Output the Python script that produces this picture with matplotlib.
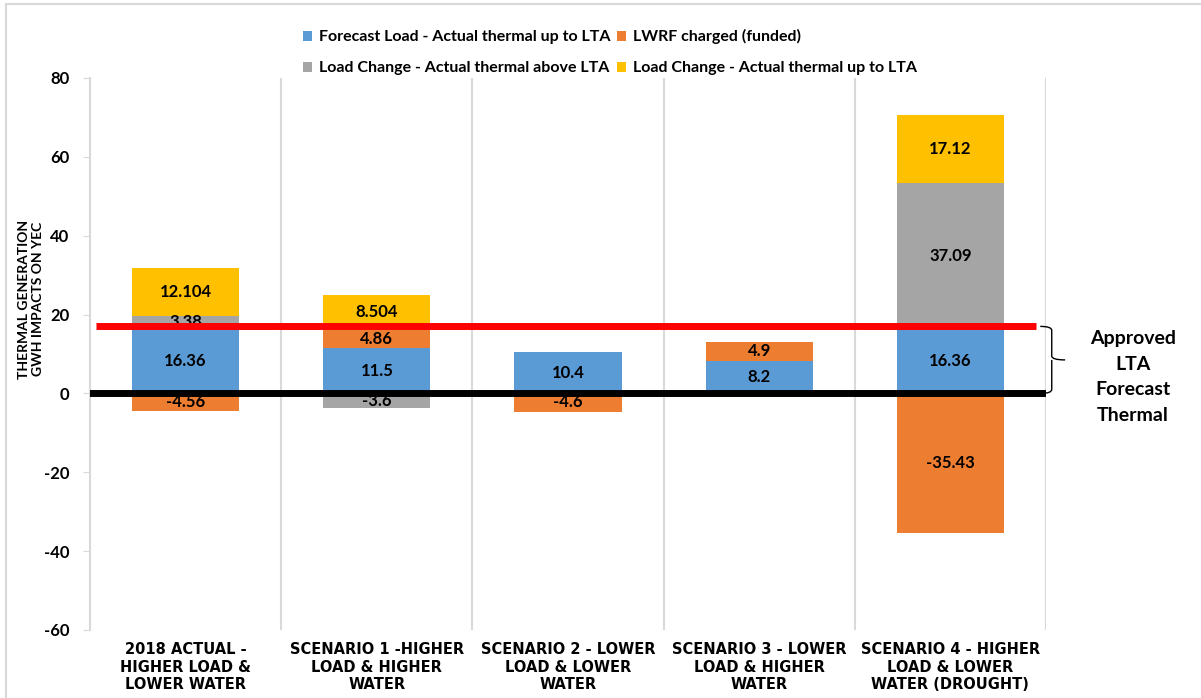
import numpy as np
import matplotlib.pyplot as plt
from matplotlib.patches import Rectangle
from matplotlib.path import Path
from matplotlib.patches import PathPatch
import matplotlib.transforms as mtransforms

plt.rcParams['font.family'] = ['Lato', 'DejaVu Sans']
plt.rcParams['font.weight'] = 'bold'
plt.rcParams['axes.unicode_minus'] = False

categories = [
    '2018 ACTUAL -\nHIGHER LOAD &\nLOWER WATER',
    'SCENARIO 1 -HIGHER\nLOAD & HIGHER\nWATER',
    'SCENARIO 2 - LOWER\nLOAD & LOWER\nWATER',
    'SCENARIO 3 - LOWER\nLOAD & HIGHER\nWATER',
    'SCENARIO 4 - HIGHER\nLOAD & LOWER\nWATER (DROUGHT)',
]

series_names = [
    'Forecast Load - Actual thermal up to LTA',
    'LWRF charged (funded)',
    'Load Change - Actual thermal above LTA',
    'Load Change - Actual thermal up to LTA',
]
forecast_load = [16.36, 11.5, 10.4, 8.2, 16.36]
lwrf_charged = [-4.56, 4.86, -4.6, 4.9, -35.43]
change_above = [3.38, -3.6, 0, 0, 37.09]
change_up_to = [12.104, 8.504, 0, 0, 17.12]
label_text = [
    ['16.36', '11.5', '10.4', '8.2', '16.36'],
    ['-4.56', '4.86', '-4.6', '4.9', '-35.43'],
    ['3.38', '-3.6', '', '', '37.09'],
    ['12.104', '8.504', '', '', '17.12'],
]
colors = ['#5B9BD5', '#ED7D31', '#A5A5A5', '#FFC000']

lta_forecast = 17.0

fig = plt.figure(figsize=(12.01, 6.98), dpi=100)
ax = fig.add_axes([90 / 1201, 1 - 630 / 698, 956 / 1201, 552 / 698])

x = np.arange(len(categories))
pos_base = np.zeros(len(categories))
neg_base = np.zeros(len(categories))
handles = []
for vals, col, name, texts in zip([forecast_load, lwrf_charged, change_above, change_up_to],
                                  colors, series_names, label_text):
    vals = np.array(vals, dtype=float)
    bottoms = np.where(vals >= 0, pos_base, neg_base)
    h = ax.bar(x, vals, width=0.56, bottom=bottoms, color=col, label=name, zorder=2)
    handles.append(h)
    for i, v in enumerate(vals):
        if texts[i]:
            ax.text(x[i], bottoms[i] + v / 2, texts[i], ha='center', va='center',
                    fontsize=12, fontweight='bold', color='black', zorder=3)
    pos_base += np.where(vals > 0, vals, 0)
    neg_base += np.where(vals < 0, vals, 0)

# reference lines
ax.plot([-0.47, 4.45], [lta_forecast, lta_forecast], color='#FF0000', lw=5, zorder=4,
        solid_capstyle='butt')
ax.axhline(0, color='black', lw=5, zorder=4)

ax.set_xlim(-0.5, 4.5)
ax.set_ylim(-60, 80)
ax.set_yticks(range(-60, 81, 20))
ax.set_xticks(x)
ax.set_xticklabels(categories, fontsize=10.5, fontweight='bold', linespacing=1.2,
                   family='DejaVu Sans')
for lbl in ax.get_yticklabels():
    lbl.set_fontsize(12)
    lbl.set_fontweight('bold')
ax.tick_params(axis='x', length=0, pad=9)
ax.tick_params(axis='y', length=5, color='#D9D9D9', pad=10)

for b in np.arange(0.5, 5.0, 1.0):
    ax.axvline(b, color='#D9D9D9', lw=1.5, zorder=1)
for s in ['top', 'right', 'bottom']:
    ax.spines[s].set_visible(False)
ax.spines['left'].set_color('#D9D9D9')
ax.spines['left'].set_linewidth(1.5)

fig.text(31 / 1201, 1 - 299 / 698, 'THERMAL GENERATION\nGWH IMPACTS ON YEC', rotation=90,
         ha='center', va='center', fontsize=10, fontweight='bold', linespacing=1.15,
         family=['Liberation Sans Narrow', 'Lato'])

# legend filled row by row
order = [0, 2, 1, 3]
ax.legend([handles[i] for i in order], [series_names[i] for i in order],
          loc='lower left', bbox_to_anchor=(200 / 956, 1.0 - 10 / 552), ncol=2, frameon=False,
          fontsize=11.5, handlelength=0.6, handleheight=0.6, handletextpad=0.4,
          columnspacing=0.4, labelspacing=1.05, borderaxespad=0.4)

# brace marking the approved LTA band
trans = mtransforms.blended_transform_factory(ax.transAxes, ax.transData)
xa, xb, xt = 0.994, 1.006, 1.020
y0, y1 = 0.0, lta_forecast
ym = (y0 + y1) / 2
verts = [(xa, y1), (xb, y1), (xb, y1 - 1.0),
         (xb, ym + 1.0), (xb, ym), (xt, ym),
         (xb, ym), (xb, ym - 1.0),
         (xb, y0 + 1.0), (xb, y0), (xa, y0)]
codes = [Path.MOVETO, Path.CURVE3, Path.CURVE3,
         Path.LINETO, Path.CURVE3, Path.CURVE3,
         Path.MOVETO, Path.CURVE3,
         Path.LINETO, Path.CURVE3, Path.CURVE3]
brace = PathPatch(Path(verts, codes), transform=trans, fill=False, lw=1.0,
                  edgecolor='black', clip_on=False)
ax.add_patch(brace)
fig.text(1133 / 1201, 1 - 377 / 698, 'Approved\nLTA\nForecast\nThermal', ha='center',
         va='center', fontsize=14, fontweight='bold', linespacing=1.6)

fig.patches.append(Rectangle((6 / 1201, -0.05), 1.1, 1.05 - 4 / 698, transform=fig.transFigure,
                             fill=False, edgecolor='#D9D9D9', lw=1.5, zorder=0))

fig.savefig('out.png', dpi=100)
